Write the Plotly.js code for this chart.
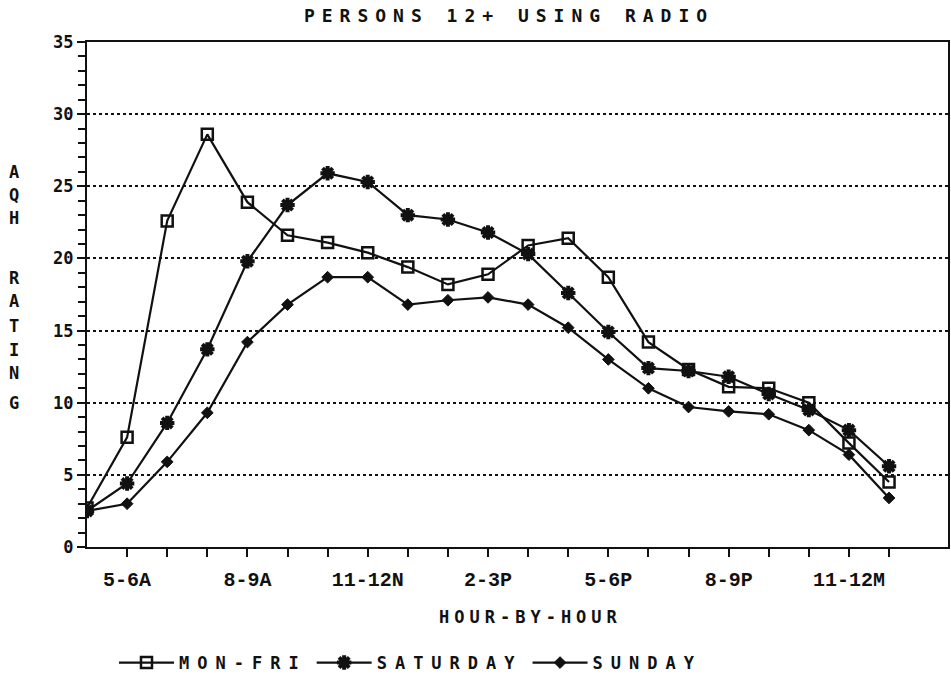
<!DOCTYPE html>
<html><head><meta charset="utf-8">
<script src="https://cdn.plot.ly/plotly-3.0.1.min.js"></script>
<style>
body{margin:0;background:#fff}
.gtitle{letter-spacing:7px}
.legendtext{letter-spacing:8px}
.annotation[data-index="9"] text{letter-spacing:5px}
</style></head><body>
<div id="chart" style="width:951px;height:677px"></div>
<script>
// ---- data ----
const hours = ["4-5A","5-6A","6-7A","7-8A","8-9A","9-10A","10-11A","11-12N","12-1P","1-2P","2-3P","3-4P","4-5P","5-6P","6-7P","7-8P","8-9P","9-10P","10-11P","11-12M","12-1A"];
const labeledHours = ["5-6A","8-9A","11-12N","2-3P","5-6P","8-9P","11-12M"];
const monFri   = [2.7,7.6,22.6,28.6,23.9,21.6,21.1,20.4,19.4,18.2,18.9,20.9,21.4,18.7,14.2,12.3,11.1,11.0,10.0,7.2,4.5];
const saturday = [2.5,4.4,8.6,13.7,19.8,23.7,25.9,25.3,23.0,22.7,21.8,20.3,17.6,14.9,12.4,12.2,11.8,10.6,9.5,8.1,5.6];
const sunday   = [2.5,3.0,5.9,9.3,14.2,16.8,18.7,18.7,16.8,17.1,17.3,16.8,15.2,13.0,11.0,9.7,9.4,9.2,8.1,6.4,3.4];
const yTicks = [0,5,10,15,20,25,30,35];
const seriesNames = ["MON-FRI","SATURDAY","SUNDAY"];
const yTitleLetters = ["A","Q","H","R","A","T","I","N","G"];
const xTitle = "HOUR-BY-HOUR";

// ---- layout helpers (positions in pixels) ----
const W = 951, H = 677;
const plotL = 87, plotR = 948, plotT = 42, plotB = 547;
const letterPy = [172,195,218,278,301,326,350,373,403];
const toPaperX = px => (px - plotL) / (plotR - plotL);
const toPaperY = py => (plotB - py) / (plotB - plotT);

const FONT = "DejaVu Sans Mono";
const INK = "#111";
const lineStyle = {color:INK, width:2.2};

const traces = [
  {x: hours, y: monFri, name: seriesNames[0], type:"scatter", mode:"lines+markers",
   line: lineStyle, marker:{symbol:"square-open", size:11, color:INK, line:{color:INK, width:2.5}}},
  {x: hours, y: saturday, name: seriesNames[1], type:"scatter", mode:"lines+markers",
   line: lineStyle, marker:{symbol:"asterisk-open", size:12, color:INK, line:{color:INK, width:4}}},
  {x: hours, y: sunday, name: seriesNames[2], type:"scatter", mode:"lines+markers",
   line: lineStyle, marker:{symbol:"diamond", size:9, color:INK, line:{color:INK, width:1}}}
];

const tickvals = hours.slice(1);
const ticktext = tickvals.map(h => labeledHours.includes(h) ? h : "");

const annotations = yTitleLetters.map((ch, i) => ({
  text: ch, xref:"paper", yref:"paper", x: toPaperX(14), y: toPaperY(letterPy[i]),
  xanchor:"center", yanchor:"middle", showarrow:false,
  font:{family:FONT, size:17, weight:"bold", color:INK}
}));
annotations.push({
  text: xTitle, xref:"paper", yref:"paper", x: toPaperX(531), y: toPaperY(617),
  xanchor:"center", yanchor:"middle", showarrow:false,
  font:{family:FONT, size:17, weight:"bold", color:INK}
});

const layout = {
  width: W, height: H,
  margin: {l: plotL, r: W - plotR, t: plotT, b: H - plotB, pad: 0, autoexpand: false},
  paper_bgcolor:"#fff", plot_bgcolor:"#fff",
  font: {family: FONT, size: 16, color:INK, weight:"bold"},
  title: {text:"PERSONS 12+ USING RADIO", x: 509/W, xanchor:"center",
          yref:"container", y: 1 - 16/H, yanchor:"middle",
          font:{family:FONT, size:18, weight:"bold", color:INK}},
  xaxis: {
    type:"category", range:[0, 21.47], tickmode:"array", tickvals, ticktext,
    ticks:"outside", ticklen:8, tickwidth:2, tickcolor:INK, ticklabelstandoff:5,
    showline:true, linewidth:2, linecolor:INK, mirror:true,
    showgrid:false, zeroline:false, automargin:false,
    tickfont:{family:"Liberation Mono", size:20, weight:"bold", color:INK}
  },
  yaxis: {
    range:[0,35], tickmode:"array", tickvals:yTicks,
    ticks:"outside", ticklen:8, tickwidth:2, tickcolor:INK,
    minor:{tickmode:"linear", tick0:0, dtick:1, ticks:"outside", ticklen:7, tickwidth:2, tickcolor:INK, showgrid:false},
    showline:true, linewidth:2, linecolor:INK, mirror:true, automargin:false,
    showgrid:true, gridcolor:INK, gridwidth:2, griddash:"dot", zeroline:false,
    tickfont:{family:FONT, size:17, weight:"bold", color:INK}
  },
  showlegend:true,
  legend:{orientation:"h", x: toPaperX(114), xanchor:"left", y: toPaperY(663), yanchor:"middle",
          font:{family:FONT, size:17, weight:"bold", color:INK}, itemwidth:55, bgcolor:"rgba(0,0,0,0)"},
  annotations
};

Plotly.newPlot("chart", traces, layout, {displayModeBar:false, staticPlot:true});
</script>
</body></html>
